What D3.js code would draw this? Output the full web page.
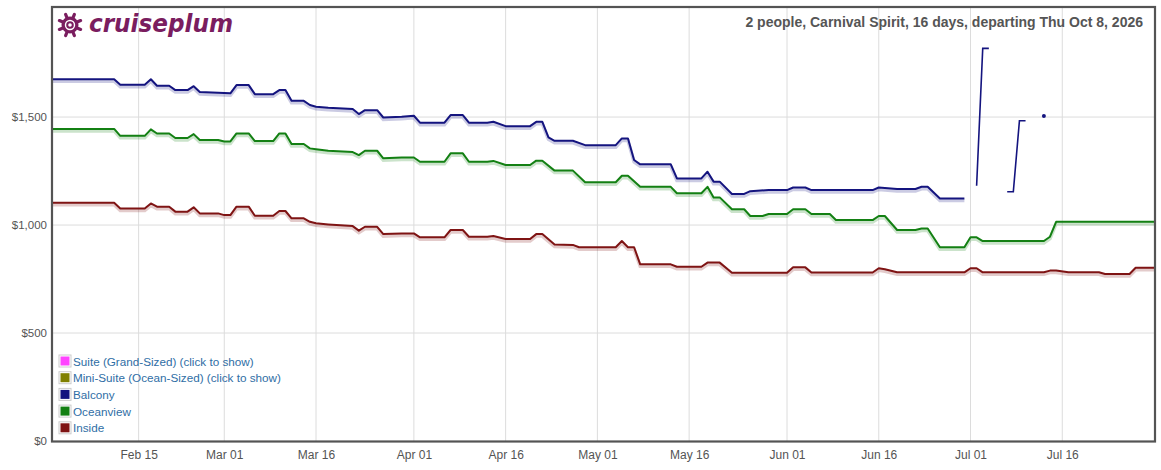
<!DOCTYPE html>
<html>
<head>
<meta charset="utf-8">
<script src="https://cdn.jsdelivr.net/npm/d3@7"></script>
<style>
  body { margin: 0; background: #fff; }
  svg { display: block; font-family: "Liberation Sans", Arial, Helvetica, sans-serif; }
</style>
</head>
<body>
<svg id="chart" width="1161" height="470"></svg>
<script>
// cruise price history (date, price in $)
let balcony = [
  ["2026-02-01",1675],["2026-02-11",1675],["2026-02-12",1650],["2026-02-16",1650],["2026-02-17",1675],
  ["2026-02-18",1645],["2026-02-20",1645],["2026-02-21",1625],["2026-02-23",1625],["2026-02-24",1643],
  ["2026-02-25",1616],["2026-02-28",1612],["2026-03-02",1610],["2026-03-03",1648],["2026-03-05",1648],
  ["2026-03-06",1606],["2026-03-09",1606],["2026-03-10",1625],["2026-03-11",1625],["2026-03-12",1575],
  ["2026-03-14",1575],["2026-03-15",1556],["2026-03-16",1548],["2026-03-18",1543],["2026-03-22",1537],
  ["2026-03-23",1514],["2026-03-24",1532],["2026-03-26",1532],["2026-03-27",1498],["2026-03-30",1501],
  ["2026-04-01",1506],["2026-04-02",1474],["2026-04-06",1474],["2026-04-07",1509],["2026-04-09",1509],
  ["2026-04-10",1474],["2026-04-13",1474],["2026-04-14",1478],["2026-04-16",1458],["2026-04-20",1458],
  ["2026-04-21",1478],["2026-04-22",1478],["2026-04-23",1406],["2026-04-24",1390],["2026-04-27",1390],
  ["2026-04-29",1370],["2026-05-04",1370],["2026-05-05",1401],["2026-05-06",1401],["2026-05-07",1301],
  ["2026-05-08",1281],["2026-05-13",1281],["2026-05-14",1216],["2026-05-18",1216],["2026-05-19",1247],
  ["2026-05-20",1201],["2026-05-21",1201],["2026-05-23",1144],["2026-05-25",1144],["2026-05-26",1157],
  ["2026-05-29",1162],["2026-06-01",1162],["2026-06-02",1174],["2026-06-04",1174],["2026-06-05",1162],
  ["2026-06-15",1162],["2026-06-16",1174],["2026-06-19",1167],["2026-06-22",1167],["2026-06-23",1177],
  ["2026-06-24",1177],["2026-06-26",1123],["2026-06-30",1123]
];
// later balcony quotes, broken up by missing days (null = gap)
let balconyLate = [
  ["2026-07-02",1182],["2026-07-03",1818],["2026-07-04",1818],["2026-07-05",null],
  ["2026-07-07",1154],["2026-07-08",1154],["2026-07-09",1483],["2026-07-10",1483],["2026-07-11",null],
  ["2026-07-13",1505]
];
let oceanview = [
  ["2026-02-01",1445],["2026-02-11",1445],["2026-02-12",1413],["2026-02-16",1413],["2026-02-17",1443],
  ["2026-02-18",1424],["2026-02-20",1424],["2026-02-21",1403],["2026-02-23",1403],["2026-02-24",1421],
  ["2026-02-25",1394],["2026-02-28",1394],["2026-03-01",1387],["2026-03-02",1387],["2026-03-03",1424],
  ["2026-03-05",1424],["2026-03-06",1389],["2026-03-09",1389],["2026-03-10",1424],["2026-03-11",1424],
  ["2026-03-12",1375],["2026-03-14",1375],["2026-03-15",1355],["2026-03-16",1351],["2026-03-18",1344],
  ["2026-03-22",1338],["2026-03-23",1324],["2026-03-24",1344],["2026-03-26",1344],["2026-03-27",1309],
  ["2026-03-30",1313],["2026-04-01",1313],["2026-04-02",1293],["2026-04-06",1293],["2026-04-07",1332],
  ["2026-04-09",1332],["2026-04-10",1293],["2026-04-13",1293],["2026-04-14",1297],["2026-04-16",1278],
  ["2026-04-20",1278],["2026-04-21",1298],["2026-04-22",1298],["2026-04-24",1252],["2026-04-27",1252],
  ["2026-04-29",1198],["2026-05-04",1198],["2026-05-05",1228],["2026-05-06",1228],["2026-05-08",1177],
  ["2026-05-13",1177],["2026-05-14",1147],["2026-05-18",1147],["2026-05-19",1177],["2026-05-20",1128],
  ["2026-05-21",1128],["2026-05-23",1073],["2026-05-25",1073],["2026-05-26",1042],["2026-05-28",1042],
  ["2026-05-29",1051],["2026-06-01",1051],["2026-06-02",1073],["2026-06-04",1073],["2026-06-05",1051],
  ["2026-06-08",1051],["2026-06-09",1023],["2026-06-15",1023],["2026-06-16",1042],["2026-06-17",1042],
  ["2026-06-19",977],["2026-06-22",977],["2026-06-23",984],["2026-06-24",984],["2026-06-26",897],
  ["2026-06-30",897],["2026-07-01",943],["2026-07-02",943],["2026-07-03",926],["2026-07-13",926],
  ["2026-07-14",946],["2026-07-15",1015],["2026-07-31",1015]
];
let inside = [
  ["2026-02-01",1103],["2026-02-11",1103],["2026-02-12",1077],["2026-02-16",1077],["2026-02-17",1100],
  ["2026-02-18",1085],["2026-02-20",1085],["2026-02-21",1062],["2026-02-23",1062],["2026-02-24",1082],
  ["2026-02-25",1054],["2026-02-28",1054],["2026-03-01",1046],["2026-03-02",1046],["2026-03-03",1085],
  ["2026-03-05",1085],["2026-03-06",1043],["2026-03-09",1043],["2026-03-10",1065],["2026-03-11",1065],
  ["2026-03-12",1031],["2026-03-14",1031],["2026-03-15",1015],["2026-03-16",1008],["2026-03-18",1003],
  ["2026-03-22",995],["2026-03-23",974],["2026-03-24",992],["2026-03-26",992],["2026-03-27",958],
  ["2026-03-30",961],["2026-04-01",961],["2026-04-02",943],["2026-04-06",943],["2026-04-07",977],
  ["2026-04-09",977],["2026-04-10",946],["2026-04-13",946],["2026-04-14",949],["2026-04-16",935],
  ["2026-04-20",935],["2026-04-21",958],["2026-04-22",958],["2026-04-24",910],["2026-04-27",908],
  ["2026-04-28",897],["2026-05-04",897],["2026-05-05",926],["2026-05-06",897],["2026-05-07",897],
  ["2026-05-08",818],["2026-05-13",818],["2026-05-14",807],["2026-05-18",807],["2026-05-19",826],
  ["2026-05-21",826],["2026-05-23",779],["2026-06-01",779],["2026-06-02",804],["2026-06-04",804],
  ["2026-06-05",780],["2026-06-15",780],["2026-06-16",800],["2026-06-17",795],["2026-06-19",781],
  ["2026-06-30",781],["2026-07-01",800],["2026-07-02",800],["2026-07-03",781],["2026-07-13",781],
  ["2026-07-14",789],["2026-07-15",789],["2026-07-17",781],["2026-07-22",781],["2026-07-23",773],
  ["2026-07-27",773],["2026-07-28",802],["2026-07-31",802]
];

let xDomain = ["2026-02-01", "2026-07-31"];
let xTicks = ["2026-02-15","2026-03-01","2026-03-16","2026-04-01","2026-04-16","2026-05-01",
              "2026-05-16","2026-06-01","2026-06-16","2026-07-01","2026-07-16"];
let yTicks = [0, 500, 1000, 1500];
let legendNames = ["Suite (Grand-Sized) (click to show)", "Mini-Suite (Ocean-Sized) (click to show)",
                   "Balcony", "Oceanview", "Inside"];
let legendColors = ["#ff44ff", "#808000", "#14147f", "#138013", "#7f1414"];
let title = "2 people, Carnival Spirit, 16 days, departing Thu Oct 8, 2026";

const parse = d3.timeParse("%Y-%m-%d");
const svg = d3.select("#chart");
const L = 53, R = 1154, T = 8, B = 441;

let x = d3.scaleTime().domain(xDomain.map(parse)).range([L, R]);
let y = d3.scaleLinear().domain([0, 2005]).range([B, T]);

// grid
let grid = svg.append("g");
grid.selectAll(".vg").data(xTicks).join("line")
  .attr("x1", d => x(parse(d))).attr("x2", d => x(parse(d)))
  .attr("y1", T).attr("y2", B)
  .attr("stroke", "#dcdcdc").attr("stroke-width", 1);
grid.selectAll(".hg").data(yTicks.slice(1)).join("line")
  .attr("x1", L).attr("x2", R)
  .attr("y1", d => y(d)).attr("y2", d => y(d))
  .attr("stroke", "#dcdcdc").attr("stroke-width", 1);

// axes (labels only, Flot style)
let xAxis = d3.axisBottom(x).tickValues(xTicks.map(parse))
  .tickFormat(d3.timeFormat("%b %d")).tickSize(0).tickPadding(9);
svg.append("g").attr("transform", `translate(0,${B})`).call(xAxis)
  .call(g => g.select(".domain").remove())
  .selectAll("text").attr("font-size", 12).attr("fill", "#545454")
  .attr("font-family", "Liberation Sans, Arial, sans-serif");

let yAxis = d3.axisLeft(y).tickValues(yTicks)
  .tickFormat(d => "$" + d3.format(",")(d)).tickSize(0).tickPadding(6);
svg.append("g").attr("transform", `translate(${L},0)`).call(yAxis)
  .call(g => g.select(".domain").remove())
  .selectAll("text").attr("font-size", 11.5).attr("fill", "#545454")
  .attr("font-family", "Liberation Sans, Arial, sans-serif");

// series
let line = d3.line()
  .defined(d => d[1] != null)
  .x(d => x(parse(d[0])))
  .y(d => y(d[1]));

let plot = svg.append("g");
[[inside, "#7f1414"], [oceanview, "#138013"], [balcony, "#14147f"]].forEach(([data, col]) => {
  plot.append("path").datum(data)
    .attr("d", line).attr("fill", "none")
    .attr("stroke", col).attr("stroke-opacity", 0.22).attr("stroke-width", 3.5)
    .attr("transform", "translate(0,2)");
  plot.append("path").datum(data)
    .attr("d", line).attr("fill", "none")
    .attr("stroke", col).attr("stroke-width", 2)
    .attr("stroke-linejoin", "round");
});
plot.append("path").datum(balconyLate)
  .attr("d", line).attr("fill", "none")
  .attr("stroke", "#14147f").attr("stroke-width", 1.6);
// lone quotes show as a dot
let lone = balconyLate.filter((d, i, a) => d[1] != null &&
  (i == 0 || a[i-1][1] == null) && (i == a.length - 1 || a[i+1][1] == null));
plot.selectAll(".dot").data(lone).join("circle")
  .attr("cx", d => x(parse(d[0]))).attr("cy", d => y(d[1]))
  .attr("r", 2).attr("fill", "#14147f");

// frame
svg.append("rect").attr("x", L - 1).attr("y", T - 1)
  .attr("width", R - L + 2).attr("height", B - T + 1.5)
  .attr("fill", "none").attr("stroke", "#545454").attr("stroke-width", 2.2);

// title
svg.append("text").attr("x", 1143).attr("y", 27).attr("text-anchor", "end")
  .attr("font-size", 14).attr("font-weight", "bold").attr("fill", "#555")
  .text(title);

// logo
let logo = svg.append("g").attr("transform", "translate(70,25)");
let plum = "#7a1d5f";
d3.range(8).forEach(i => {
  let a = i * Math.PI / 4 + Math.PI / 8;
  logo.append("line").attr("x1", 0).attr("y1", 0)
    .attr("x2", 11.5 * Math.cos(a)).attr("y2", 11.5 * Math.sin(a))
    .attr("stroke", plum).attr("stroke-width", 3.2).attr("stroke-linecap", "round");
});
logo.append("circle").attr("r", 8.5).attr("fill", plum);
logo.append("circle").attr("r", 4.5).attr("fill", "none").attr("stroke", "#fff").attr("stroke-width", 1.4);
logo.append("circle").attr("r", 1.8).attr("fill", "#fff");
svg.append("text").attr("x", 89).attr("y", 32)
  .attr("font-family", "DejaVu Sans, Verdana, sans-serif")
  .attr("font-size", 24).attr("font-weight", "bold").attr("font-style", "italic")
  .attr("fill", plum).attr("textLength", 144).attr("lengthAdjust", "spacingAndGlyphs")
  .text("cruiseplum");

// legend
let leg = svg.append("g").attr("transform", "translate(59,355)");
let rows = leg.selectAll("g").data(legendNames).join("g")
  .attr("transform", (d, i) => `translate(0,${i * 16.7})`);
rows.append("rect").attr("x", 0).attr("y", 0).attr("width", 12).attr("height", 12)
  .attr("fill", "#fff").attr("stroke", "#ccc").attr("stroke-width", 1);
rows.append("rect").attr("x", 1.5).attr("y", 1.5).attr("width", 9).attr("height", 9)
  .attr("fill", (d, i) => legendColors[i]);
rows.append("text").attr("x", 14).attr("y", 10.5)
  .attr("font-size", 11.7).attr("fill", "#2f6ea5")
  .text(d => d);
</script>
</body>
</html>
